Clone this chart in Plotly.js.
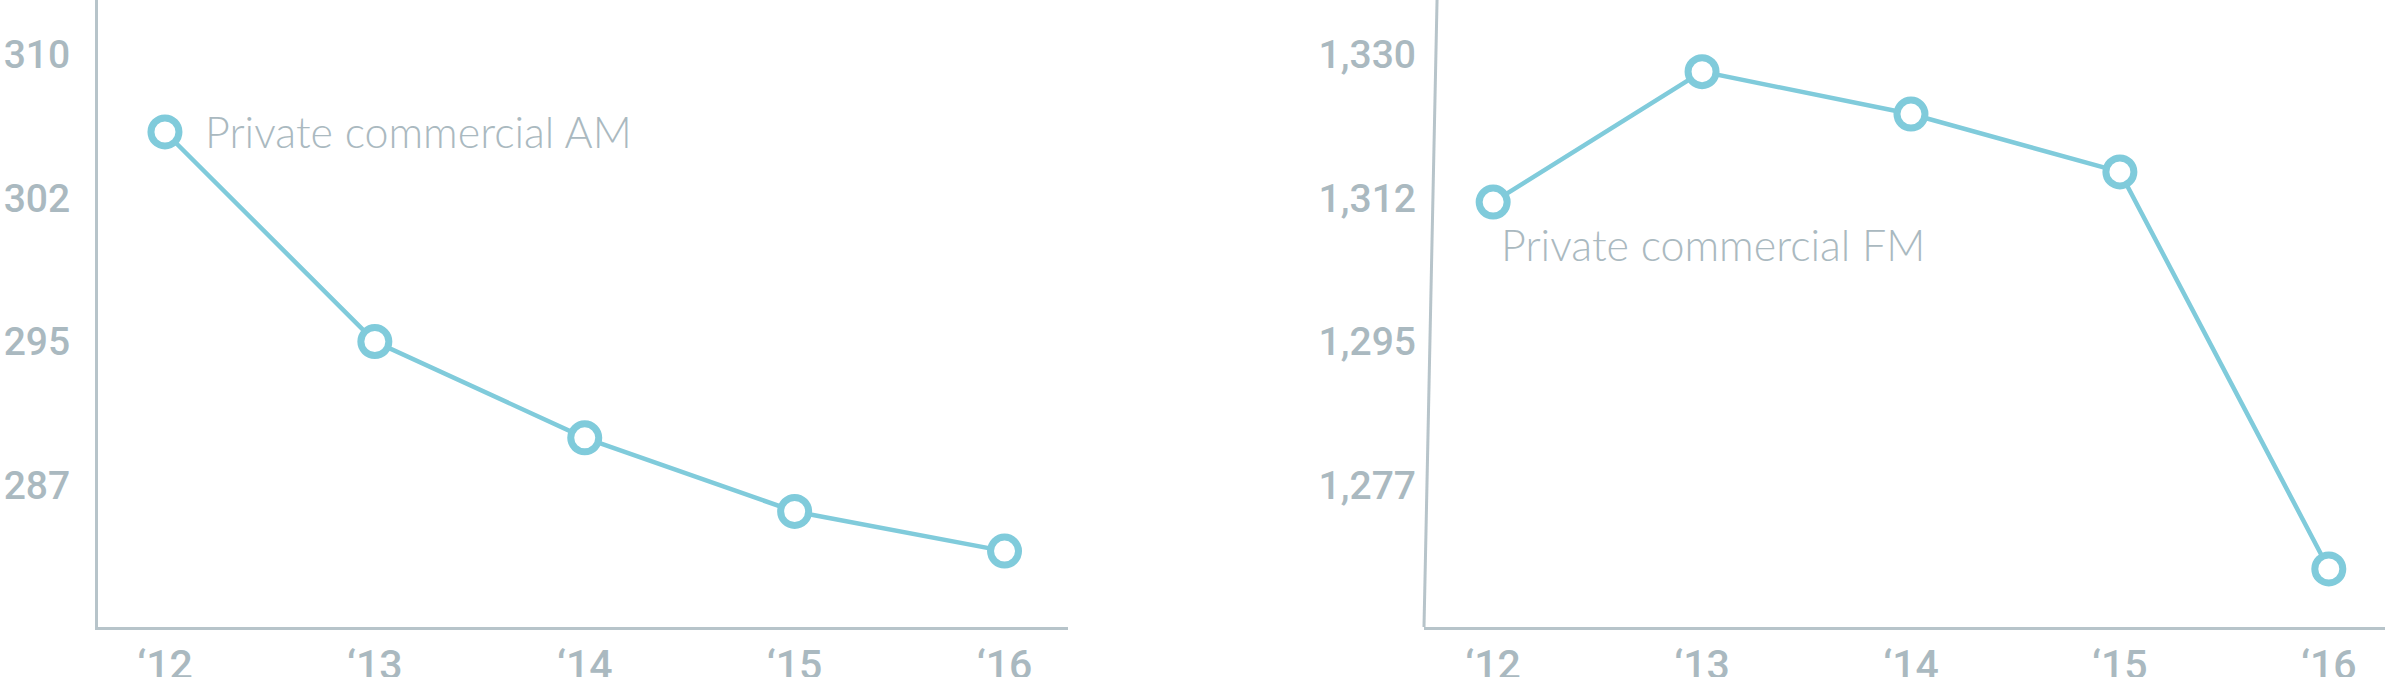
<!DOCTYPE html>
<html>
<head>
<meta charset="utf-8">
<script src="https://cdn.plot.ly/plotly-3.0.1.min.js"></script>
<style>
  html, body { margin: 0; padding: 0; background: #ffffff; }
  #stationsChart { width: 2393px; height: 677px; }
</style>
</head>
<body>
<div id="stationsChart"></div>
<script>
// data
const years = ["\u201812", "\u201813", "\u201814", "\u201815", "\u201816"];
const amStations = [305.7, 294.6, 289.5, 285.6, 283.5];
const fmStations = [1311.9, 1327.9, 1322.7, 1315.6, 1266.9];

const amTickVals = [287, 294.6, 302.2, 309.8];
const amTickText = ["287", "295", "302", "310"];
const fmTickVals = [1277.2, 1294.8, 1312.4, 1330.0];
const fmTickText = ["1,277", "1,295", "1,312", "1,330"];

const LINE_COLOUR = "#80cbdb";
const AXIS_COLOUR = "#b7c4ca";
const TEXT_COLOUR = "#aab9c0";
const tickFamily = "Roboto, 'Open Sans', sans-serif";
const labelFamily = "Lato, 'Open Sans', sans-serif";

function lineTrace(values, xaxis, yaxis) {
    return {
        x: years,
        y: values,
        xaxis: xaxis,
        yaxis: yaxis,
        type: "scatter",
        mode: "lines+markers",
        line: { color: LINE_COLOUR, width: 4.5 },
        marker: {
            symbol: "circle",
            size: 28,
            color: "#ffffff",
            line: { color: LINE_COLOUR, width: 7 }
        },
        hoverinfo: "skip",
        cliponaxis: false
    };
}

function xAxis(domain, range) {
    return {
        domain: domain,
        range: range,
        type: "category",
        showgrid: false,
        zeroline: false,
        showline: true,
        linecolor: AXIS_COLOUR,
        linewidth: 3,
        ticks: "",
        ticklabelstandoff: 0,
        tickfont: { family: tickFamily, size: 41, color: TEXT_COLOUR, weight: 500 }
    };
}

function yAxis(range, tickVals, tickText, anchor, showline, standoff) {
    return {
        range: range,
        anchor: anchor,
        tickmode: "array",
        tickvals: tickVals,
        ticktext: tickText,
        showgrid: false,
        zeroline: false,
        showline: showline,
        linecolor: AXIS_COLOUR,
        linewidth: 3,
        ticks: "",
        ticklabelstandoff: standoff,
        tickfont: { family: tickFamily, size: 39, color: TEXT_COLOUR, weight: 500 }
    };
}

const data = [
    lineTrace(amStations, "x", "y"),
    lineTrace(fmStations, "x2", "y2")
];

const layout = {
    width: 2393,
    height: 677,
    margin: { l: 98, r: 8, t: 0, b: 50 },
    paper_bgcolor: "#ffffff",
    plot_bgcolor: "rgba(0,0,0,0)",
    showlegend: false,
    font: { family: tickFamily, color: TEXT_COLOUR },
    xaxis: xAxis([0, 0.4241], [-0.319, 4.302]),
    yaxis: yAxis([279.48, 312.69], amTickVals, amTickText, "x", true, 17),
    xaxis2: xAxis([0.5798, 1], [-0.331, 4.269]),
    yaxis2: yAxis([1259.78, 1336.69], fmTickVals, fmTickText, "x2", false, 7),
    shapes: [
        {
            // the right-hand axis line leans slightly in the original
            type: "line",
            xref: "paper",
            yref: "paper",
            x0: 0.5855,
            y0: 1,
            x1: 0.5798,
            y1: 0,
            line: { color: AXIS_COLOUR, width: 3 }
        }
    ],
    annotations: [
        {
            x: years[0],
            y: amStations[0],
            xref: "x",
            yref: "y",
            text: "Private commercial AM",
            showarrow: false,
            xanchor: "left",
            yanchor: "middle",
            xshift: 38,
            font: { family: labelFamily, size: 43, color: TEXT_COLOUR, weight: 300 }
        },
        {
            x: years[0],
            y: fmStations[0],
            xref: "x2",
            yref: "y2",
            text: "Private commercial FM",
            showarrow: false,
            xanchor: "left",
            yanchor: "middle",
            xshift: 6,
            yshift: -42,
            font: { family: labelFamily, size: 43, color: TEXT_COLOUR, weight: 300 }
        }
    ]
};

Plotly.newPlot("stationsChart", data, layout, { staticPlot: true, displayModeBar: false });
</script>
</body>
</html>
